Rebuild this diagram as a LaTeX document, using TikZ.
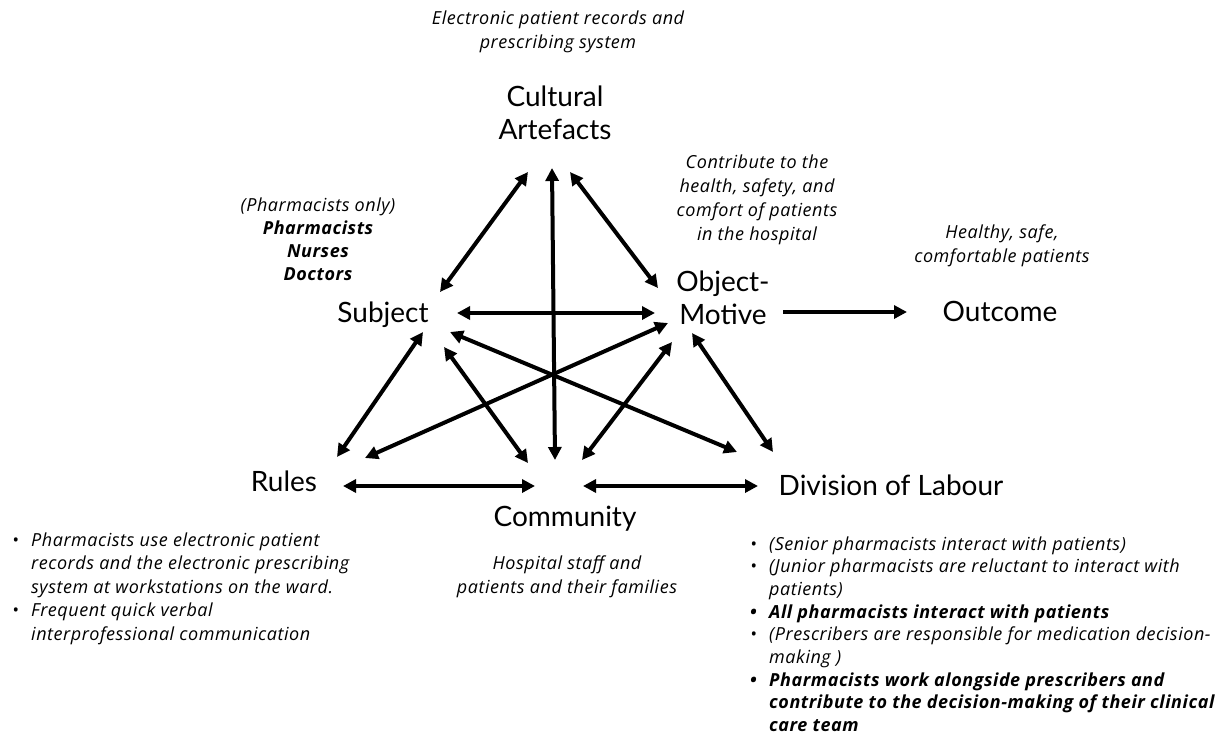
\documentclass[tikz,border=0pt]{standalone}
\usepackage{fontspec}
\setmainfont{Lato}
\newfontfamily\notefont[LetterSpace=3]{Open Sans}
\usetikzlibrary{arrows.meta}
\newcommand\mlines[2][c]{\begin{tabular}[t]{@{}#1@{}}#2\end{tabular}}
\newcommand\bul{\makebox[19pt][l]{\textbullet}}
\begin{document}
\begin{tikzpicture}[x=1pt,y=-1pt,
  lab/.style={font={\fontsize{28}{33}\selectfont}, inner sep=0pt, anchor=base},
  note/.style={font={\notefont\fontsize{18}{24}\selectfont\itshape}, inner sep=0pt, anchor=base},
  list/.style={font={\notefont\fontsize{18}{23.5}\selectfont\itshape}, inner sep=0pt, anchor=base west},
  tip/.tip={Triangle[length=13pt,width=13pt]},
  dbl/.style={line width=4pt, tip-tip},
  sgl/.style={line width=4pt, -tip}]
\useasboundingbox[fill=white] (0,0) rectangle (1217,734);

% main labels
\node[lab] (ca) at (555,106) {\mlines{Cultural\\Artefacts}};
\node[lab] (subj) at (383,322) {Subject};
\node[lab] (obj) at (723,291) {\mlines{Object-\\Motive}};
\node[lab] (out) at (1000,321) {Outcome};
\node[lab] (rules) at (284,491) {Rules};
\node[lab] (comm) at (565,526) {Community};
\node[lab] (div) at (891,495) {Division of Labour};

% notes
\node[note] (canote) at (558,24) {\mlines{Electronic patient records and\\prescribing system}};
\node[note] (objnote) at (757,168) {\mlines{Contribute to the\\health, safety, and\\comfort of patients\\in the hospital}};
\node[note] (outnote) at (1002,238) {\mlines{Healthy, safe,\\comfortable patients}};
\node[note, font={\notefont\fontsize{18}{23}\selectfont\itshape}] (subjnote) at (318,211) {\mlines{(Pharmacists only)\\\textbf{Pharmacists}\\\textbf{Nurses}\\\textbf{Doctors}}};
\node[note] (commnote) at (567,569) {\mlines{Hospital staff and\\patients and their families}};
\node[list] (rulesnote) at (12,546) {\mlines[l]{%
\bul Pharmacists use electronic patient\\
\hspace{19pt}records and the electronic prescribing\\
\hspace{19pt}system at workstations on the ward.\\
\bul Frequent quick verbal\\
\hspace{19pt}interprofessional communication}};
\node[list, font={\notefont\fontsize{18}{22.7}\selectfont\itshape}] (divnote) at (750,550) {\mlines[l]{%
\bul (Senior pharmacists interact with patients)\\
\bul (Junior pharmacists are reluctant to interact with\\
\hspace{19pt}patients)\\
\textbf{\bul All pharmacists interact with patients}\\
\bul (Prescribers are responsible for medication decision-\\
\hspace{19pt}making )\\
\textbf{\bul Pharmacists work alongside prescribers and}\\
\textbf{\hspace{19pt}contribute to the decision-making of their clinical}\\
\textbf{\hspace{19pt}care team}}};

% connector end points
\coordinate (caS) at (528,172);
\coordinate (sCA) at (440,292);
\coordinate (caC) at (552,168);
\coordinate (cCA) at (555,460);
\coordinate (caO) at (570,172);
\coordinate (oCA) at (658,288);
\coordinate (sO) at (457,313);
\coordinate (oS) at (655,313);
\coordinate (oOut) at (783,312);
\coordinate (outO) at (907,312);
\coordinate (sR) at (423,332);
\coordinate (rS) at (337,457);
\coordinate (sC) at (444,347);
\coordinate (cS) at (528,463);
\coordinate (sD) at (450,332);
\coordinate (dS) at (737,452);
\coordinate (oR) at (668,323);
\coordinate (rO) at (365,458);
\coordinate (oC) at (672,342);
\coordinate (cO) at (582,460);
\coordinate (oD) at (692,333);
\coordinate (dO) at (773,452);
\coordinate (rC) at (343,486);
\coordinate (cR) at (535,486);
\coordinate (cD) at (583,486);
\coordinate (dC) at (758,486);

\draw[dbl] (caS) -- (sCA);
\draw[dbl] (caC) -- (cCA);
\draw[dbl] (caO) -- (oCA);
\draw[dbl] (sO) -- (oS);
\draw[sgl] (oOut) -- (outO);
\draw[dbl] (sR) -- (rS);
\draw[dbl] (sC) -- (cS);
\draw[dbl] (sD) -- (dS);
\draw[dbl] (oR) -- (rO);
\draw[dbl] (oC) -- (cO);
\draw[dbl] (oD) -- (dO);
\draw[dbl] (rC) -- (cR);
\draw[dbl] (cD) -- (dC);
\end{tikzpicture}
\end{document}
